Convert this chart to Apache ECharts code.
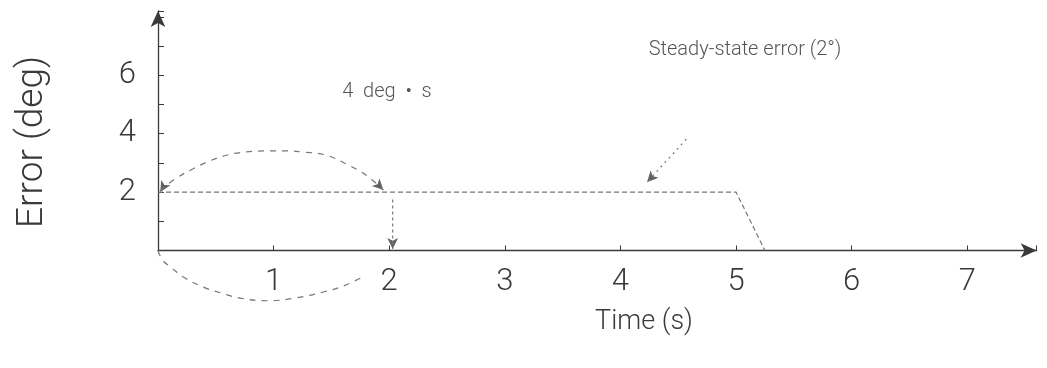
<!DOCTYPE html>
<html>
<head>
<meta charset="utf-8">
<script src="https://cdn.jsdelivr.net/npm/echarts@6/dist/echarts.min.js"></script>
<style>
  html, body { margin: 0; background: #fff; }
  #chart { width: 1047px; height: 368px; }
</style>
</head>
<body>
<div id="chart"></div>
<script>
// tick labels
const timeTicks = [1, 2, 3, 4, 5, 6, 7];
const errorTicks = [2, 4, 6];

// error response (deg) vs time (s)
const errorTime = [0, 5.0, 5.25];
const errorDeg = [2, 2, 0];

// dashed loop around the 4 deg·s area (upper and lower halves)
const loopTopTime = [0.017, 0.147, 0.3, 0.45, 0.6, 0.75, 0.97, 1.12, 1.25, 1.44, 1.63, 1.81, 1.95];
const loopTopDeg = [2.04, 2.45, 2.79, 3.07, 3.27, 3.37, 3.41, 3.41, 3.37, 3.28, 2.96, 2.55, 2.07];
const loopBottomTime = [0, 0.04, 0.12, 0.22, 0.39, 0.55, 0.71, 0.95, 1.2, 1.43, 1.6, 1.77];
const loopBottomDeg = [0, -0.33, -0.6, -0.91, -1.25, -1.46, -1.63, -1.72, -1.62, -1.42, -1.22, -0.91];

// right edge of the area, and leader from the steady-state label
const edgeTime = [2.03, 2.03];
const edgeDeg = [1.75, 0.05];
const leaderTime = [4.57, 4.23];
const leaderDeg = [3.81, 2.34];

// arrow heads: [time, deg, rotation]
const arrowHeads = [
  [0.02, 2.0, 150],
  [1.95, 2.07, 225],
  [2.03, 0.05, 180],
  [4.23, 2.34, 137]
];

const zip = (a, b) => a.map((v, i) => [v, b[i]]);
const ink = "#3a3a3a";
const faint = "#777";
const font = "Roboto, Liberation Sans, Arial, sans-serif";

const chart = echarts.init(document.getElementById("chart"), null, { renderer: "canvas" });

const dashLine = (name, data, type, smooth) => ({
  name,
  type: "line",
  data,
  smooth: smooth || false,
  showSymbol: false,
  clip: false,
  silent: true,
  lineStyle: { color: faint, width: 1.2, type }
});

chart.setOption({
  animation: false,
  backgroundColor: "#fff",
  grid: { left: 158, right: 10.4, top: 11, bottom: 117.5 },
  xAxis: {
    type: "value",
    min: 0,
    max: 7.6,
    interval: 1,
    axisLine: {
      onZero: false,
      symbol: ["none", "arrow"],
      symbolSize: [11, 16],
      lineStyle: { color: ink, width: 1.3 }
    },
    axisTick: { inside: true, length: 5, lineStyle: { color: ink } },
    axisLabel: {
      margin: 16,
      color: ink,
      fontSize: 31,
      fontWeight: 300,
      fontFamily: font,
      formatter: (v) => (timeTicks.includes(v) ? String(v) : "")
    },
    splitLine: { show: false }
  },
  yAxis: {
    type: "value",
    min: 0,
    max: 8.2,
    interval: 1,
    axisLine: {
      symbol: ["none", "arrow"],
      symbolSize: [11, 16],
      lineStyle: { color: ink, width: 1.3 }
    },
    axisTick: { inside: true, length: 6, lineStyle: { color: ink } },
    axisLabel: {
      margin: 22,
      color: ink,
      fontSize: 31,
      fontWeight: 300,
      fontFamily: font,
      formatter: (v) => (errorTicks.includes(v) ? String(v) : "")
    },
    splitLine: { show: false }
  },
  series: [
    dashLine("Error", zip(errorTime, errorDeg), [5, 3]),
    dashLine("Area top", zip(loopTopTime, loopTopDeg), [6, 6], 0.4),
    dashLine("Area bottom", zip(loopBottomTime, loopBottomDeg), [6, 6], 0.4),
    dashLine("Area edge", zip(edgeTime, edgeDeg), [3, 3]),
    dashLine("Leader", zip(leaderTime, leaderDeg), [2, 4]),
    {
      name: "Arrows",
      type: "scatter",
      silent: true,
      clip: false,
      symbol: "arrow",
      symbolSize: [8, 11],
      itemStyle: { color: ink },
      data: arrowHeads.map((a) => ({ value: [a[0], a[1]], symbolRotate: a[2] }))
    }
  ],
  graphic: [
    {
      type: "text",
      left: 14,
      top: 56,
      rotation: Math.PI / 2,
      style: { text: "Error (deg)", fill: ink, font: `300 37px ${font}` },
      originX: 0,
      originY: 0
    },
    {
      type: "text",
      x: 644,
      y: 322,
      style: { text: "Time (s)", fill: ink, font: `300 27px ${font}`, align: "center", verticalAlign: "middle" }
    },
    {
      type: "text",
      x: 387,
      y: 92,
      style: { text: "4  deg  •  s", fill: "#555", font: `300 20px ${font}`, align: "center", verticalAlign: "middle" }
    },
    {
      type: "text",
      x: 745,
      y: 50,
      style: { text: "Steady-state error (2°)", fill: "#555", font: `300 20px ${font}`, align: "center", verticalAlign: "middle" }
    }
  ]
});
</script>
</body>
</html>
